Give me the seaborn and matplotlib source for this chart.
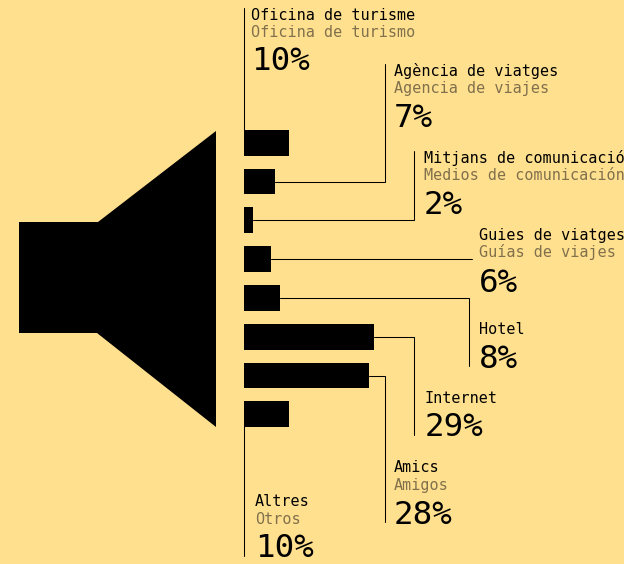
import matplotlib
matplotlib.use("Agg")
import matplotlib.pyplot as plt
import pandas as pd
import seaborn as sns
from matplotlib.patches import Polygon

categories = ["Oficina de turisme", "Agència de viatges", "Mitjans de comunicació", "Guies de viatges",
              "Hotel", "Internet", "Amics", "Altres"]
categories_es = ["Oficina de turismo", "Agencia de viajes", "Medios de comunicación", "Guías de viajes",
                 "", "", "Amigos", "Otros"]
values = [10, 7, 2, 6, 8, 29, 28, 10]

BG = "#ffe08f"
GREY = "#80704c"
W, H = 624, 564
FONT = "DejaVu Sans Mono"

# label anchor x, baselines for name / spanish / percent
label_x = [251, 393.5, 424, 479, 479, 425, 394, 255]
name_y = [20, 76, 163, 240, 334, 403, 472, 506]
es_y = [37, 93, 180, 257, None, None, 490, 524]
pct_y = [70, 127, 214, 292, 368, 436, 524, 557]
# leader: elbow x and end y (None = straight)
elbow_x = [None, 384.5, 414, 472, 469, 414, 384.5, None]
elbow_y = [8, 64, 151, None, 366, 435, 522, 556]

# bar axes: value 0 at px 244, px per percent, px per row
X0, PX_PER = 244, 4.48
Y0, ROW = 142.7, 38.8


def main() -> None:
    sns.set_theme(style="white", rc={"figure.facecolor": BG, "axes.facecolor": BG})
    plt.rcParams["font.family"] = [FONT, "Liberation Mono"]

    fig = plt.figure(figsize=(W / 100, H / 100), dpi=100)
    ax = fig.add_axes([0, 0, 1, 1])

    data = pd.DataFrame({"category": categories, "value": values})
    sns.barplot(data=data, x="value", y="category", orient="h", color="black",
                saturation=1, width=0.66, linewidth=0, ax=ax)
    ax.set_xlim(-X0 / PX_PER, (W - X0) / PX_PER)
    ax.set_ylim((H - Y0) / ROW, -Y0 / ROW)
    ax.axis("off")

    # pixel overlay for speaker, leaders and labels
    over = fig.add_axes([0, 0, 1, 1], facecolor="none")
    over.set_xlim(0, W)
    over.set_ylim(H, 0)
    over.axis("off")

    over.add_patch(Polygon([(19, 222), (98, 222), (216, 131), (216, 427), (97, 333), (19, 333)],
                           closed=True, facecolor="black", edgecolor="none"))

    for i, v in enumerate(values):
        bar_end = X0 + v * PX_PER
        bar_mid = Y0 + i * ROW
        if elbow_x[i] is None:
            # straight leader off the bar's left edge
            start = bar_mid - 12 if i == 0 else bar_mid + 12
            xs, ys = [X0, X0], [start, elbow_y[i]]
        elif elbow_y[i] is None:
            xs, ys = [bar_end, elbow_x[i]], [bar_mid, bar_mid]
        else:
            xs, ys = [bar_end, elbow_x[i], elbow_x[i]], [bar_mid, bar_mid, elbow_y[i]]
        over.plot(xs, ys, color="black", lw=0.75, solid_joinstyle="miter")

        over.text(label_x[i], name_y[i], categories[i], fontsize=10.9, color="black", va="baseline")
        if es_y[i] is not None:
            over.text(label_x[i], es_y[i], categories_es[i], fontsize=10.9, color=GREY, va="baseline")
        over.text(label_x[i], pct_y[i], f"{v}%", fontsize=23.4, color="black", va="baseline")

    fig.savefig("out.png", dpi=100, facecolor=BG)


if __name__ == "__main__":
    main()
